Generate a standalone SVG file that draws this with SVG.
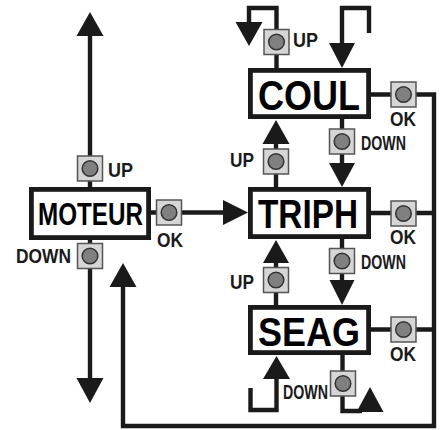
<svg xmlns="http://www.w3.org/2000/svg" xmlns:xlink="http://www.w3.org/1999/xlink" width="441" height="430" viewBox="0 0 441 430">
<style>
.ln{fill:none;stroke:#1a1a1a;stroke-width:4.4;stroke-linejoin:miter;stroke-linecap:butt}
.ah{fill:#1a1a1a}
.box{fill:#fff;stroke:#1a1a1a;stroke-width:4.8}
.big{font-family:"Liberation Sans",Arial,sans-serif;font-weight:bold;fill:#000}
.lbl{font-family:"Liberation Sans",Arial,sans-serif;font-weight:bold;font-size:20.5px;fill:#1a1a1a}
</style>
<defs>
<g id="btn">
<rect x="-12.5" y="-12.5" width="25" height="25" fill="#d6d6d6" stroke="#555" stroke-width="1.5"/>
<circle r="7.8" fill="#808080" stroke="#333" stroke-width="1.5"/>
</g>
</defs>
<rect width="441" height="430" fill="#fff"/>
<g id="connectors">
<path class="ln" d="M90,36 V188"/>
<polygon class="ah" points="76.5,36 103.5,36 90,12"/>
<path class="ln" d="M90,239 V378"/>
<polygon class="ah" points="76.5,378 103.5,378 90,403"/>
<path class="ln" d="M150,212.5 H224"/>
<polygon class="ah" points="223,200 223,225 248,212.5"/>
<path class="ln" d="M276.5,69 V8 H249 V22"/>
<polygon class="ah" points="235.5,22 262.5,22 249,46"/>
<path class="ln" d="M369,33 V8 H342 V43"/>
<polygon class="ah" points="329,43 355,43 342,68"/>
<path class="ln" d="M276,188 V144"/>
<polygon class="ah" points="262.5,144 289.5,144 276,120"/>
<path class="ln" d="M342,118 V163"/>
<polygon class="ah" points="329,163 355,163 342,187"/>
<path class="ln" d="M276,306 V263"/>
<polygon class="ah" points="263,263 289,263 276,240"/>
<path class="ln" d="M342,238 V280"/>
<polygon class="ah" points="329.5,280 354.5,280 342,305"/>
<path class="ln" d="M276.5,379 V410 H250.5 V388"/>
<polygon class="ah" points="263,379 290,379 276.5,356"/>
<path class="ln" d="M342.5,354 V411 H362"/>
<polygon class="ah" points="356.5,412 383.5,412 370,387"/>
<path class="ln" d="M370,94.5 H434 V426 H123 V287"/>
<polygon class="ah" points="109.5,287 136.5,287 123,263"/>
<path class="ln" d="M370,213 H434"/>
<path class="ln" d="M370,329.5 H434"/>
</g>
<g id="node-moteur">
<rect class="box" x="31.4" y="189.4" width="117.2" height="48.2"/>
<text class="big" x="38" y="225" font-size="32" textLength="105" lengthAdjust="spacingAndGlyphs">MOTEUR</text>
</g>
<g id="node-coul">
<rect class="box" x="250.4" y="70.4" width="118.2" height="46.2"/>
<text class="big" x="258" y="110" font-size="42" textLength="102" lengthAdjust="spacingAndGlyphs">COUL</text>
</g>
<g id="node-triph">
<rect class="box" x="250.4" y="189.4" width="118.2" height="47.2"/>
<text class="big" x="258" y="228" font-size="40" textLength="100" lengthAdjust="spacingAndGlyphs">TRIPH</text>
</g>
<g id="node-seag">
<rect class="box" x="250.4" y="307.4" width="118.2" height="45.2"/>
<text class="big" x="258" y="345.5" font-size="40" textLength="102" lengthAdjust="spacingAndGlyphs">SEAG</text>
</g>
<g id="buttons">
<use xlink:href="#btn" href="#btn" x="90" y="168.5"/>
<use xlink:href="#btn" href="#btn" x="90" y="256"/>
<use xlink:href="#btn" href="#btn" x="169" y="212.5"/>
<use xlink:href="#btn" href="#btn" x="276.5" y="42"/>
<use xlink:href="#btn" href="#btn" x="403.5" y="94.5"/>
<use xlink:href="#btn" href="#btn" x="342" y="141.5"/>
<use xlink:href="#btn" href="#btn" x="276" y="161.5"/>
<use xlink:href="#btn" href="#btn" x="403.5" y="213.5"/>
<use xlink:href="#btn" href="#btn" x="342" y="261"/>
<use xlink:href="#btn" href="#btn" x="276" y="280"/>
<use xlink:href="#btn" href="#btn" x="403.5" y="329.5"/>
<use xlink:href="#btn" href="#btn" x="343" y="383.5"/>
</g>
<g id="labels">
<text class="lbl" x="108" y="177" textLength="25" lengthAdjust="spacingAndGlyphs">UP</text>
<text class="lbl" x="157" y="247" textLength="26" lengthAdjust="spacingAndGlyphs">OK</text>
<text class="lbl" x="16" y="263" textLength="55" lengthAdjust="spacingAndGlyphs">DOWN</text>
<text class="lbl" x="293" y="47" textLength="25" lengthAdjust="spacingAndGlyphs">UP</text>
<text class="lbl" x="390" y="126" textLength="26" lengthAdjust="spacingAndGlyphs">OK</text>
<text class="lbl" x="361" y="150" textLength="45" lengthAdjust="spacingAndGlyphs">DOWN</text>
<text class="lbl" x="230" y="167" textLength="24" lengthAdjust="spacingAndGlyphs">UP</text>
<text class="lbl" x="390" y="244" textLength="26" lengthAdjust="spacingAndGlyphs">OK</text>
<text class="lbl" x="361" y="269" textLength="45" lengthAdjust="spacingAndGlyphs">DOWN</text>
<text class="lbl" x="230" y="289" textLength="24" lengthAdjust="spacingAndGlyphs">UP</text>
<text class="lbl" x="390" y="361" textLength="26" lengthAdjust="spacingAndGlyphs">OK</text>
<text class="lbl" x="283" y="399" textLength="45" lengthAdjust="spacingAndGlyphs">DOWN</text>
</g>
</svg>
